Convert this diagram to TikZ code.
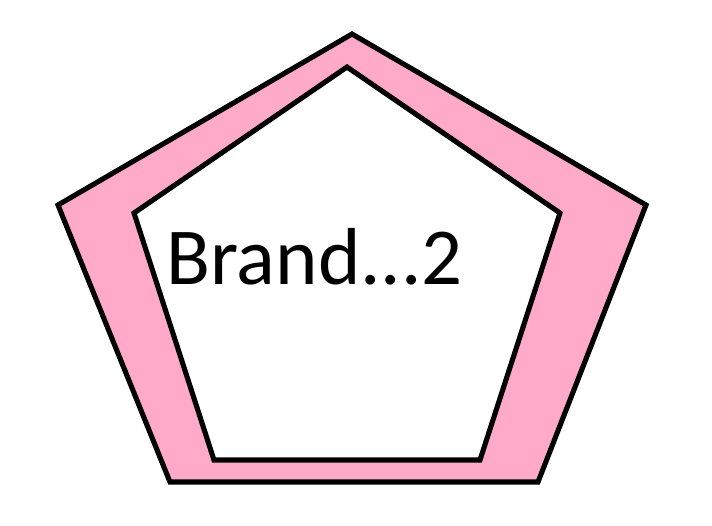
\documentclass[tikz,border=0pt]{standalone}
\usepackage{fontspec}
\setmainfont{Carlito}
\usepackage{xcolor}
\definecolor{brandpink}{HTML}{FFAAC8}

\begin{document}
\begin{tikzpicture}[x=0.02cm, y=-0.02cm, line join=miter]
			\useasboundingbox (0, 0) rectangle (712, 525);
			
			% Outer pentagon
			\draw[line width=2.9pt, fill=brandpink] (352, 34) -- (646, 205) -- (538, 482) -- (170, 482) -- (58, 205) -- cycle;
			
			% Inner pentagon
			\draw[line width=2.9pt, fill=white] (347, 67) -- (560, 213) -- (480, 460) -- (214, 460) -- (134, 213) -- cycle;
			
			% Label
			\node[anchor=base west, inner sep=0pt] (brand) at (166, 284) {\fontsize{46}{55}\selectfont Brand.{}.{}.2};
		\end{tikzpicture}
\end{document}
